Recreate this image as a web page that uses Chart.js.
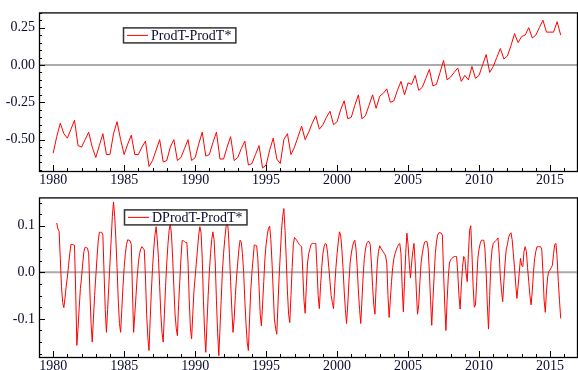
<!DOCTYPE html>
<html>
<head>
<meta charset="utf-8">
<script src="https://cdn.jsdelivr.net/npm/chart.js@4.4.0/dist/chart.umd.min.js"></script>
<style>
  html, body { margin: 0; padding: 0; background: #fff; }
  #wrap { position: relative; width: 578px; height: 370px; }
  canvas { position: absolute; left: 0; }
  #topChart { top: 0; }
  #botChart { top: 185px; }
</style>
</head>
<body>
<div id="wrap">
  <canvas id="topChart" width="578" height="185"></canvas>
  <canvas id="botChart" width="578" height="185"></canvas>
</div>
<script>
// ProdT-ProdT*, quarterly 1980Q1 .. 2015Q4
const prodStart = 1980;
const prod = [
  -0.59, -0.48, -0.39, -0.46,   // 1980
  -0.49, -0.43, -0.37, -0.54,   // 1981
  -0.55, -0.50, -0.45, -0.55,   // 1982
  -0.62, -0.54, -0.46, -0.60,   // 1983
  -0.60, -0.46, -0.38, -0.50,   // 1984
  -0.60, -0.53, -0.47, -0.60,   // 1985
  -0.60, -0.55, -0.51, -0.68,   // 1986
  -0.64, -0.57, -0.50, -0.65,   // 1987
  -0.64, -0.55, -0.50, -0.64,   // 1988
  -0.62, -0.56, -0.50, -0.64,   // 1989
  -0.62, -0.53, -0.45, -0.61,   // 1990
  -0.60, -0.52, -0.45, -0.63,   // 1991
  -0.63, -0.55, -0.48, -0.64,   // 1992
  -0.62, -0.56, -0.51, -0.67,   // 1993
  -0.66, -0.60, -0.54, -0.69,   // 1994
  -0.67, -0.57, -0.49, -0.63,   // 1995
  -0.66, -0.50, -0.46, -0.60,   // 1996
  -0.55, -0.48, -0.41, -0.50,   // 1997
  -0.45, -0.39, -0.34, -0.43,   // 1998
  -0.40, -0.35, -0.31, -0.40,   // 1999
  -0.38, -0.30, -0.24, -0.36,   // 2000
  -0.35, -0.27, -0.20, -0.36,   // 2001
  -0.34, -0.27, -0.20, -0.29,   // 2002
  -0.21, -0.19, -0.16, -0.25,   // 2003
  -0.24, -0.17, -0.11, -0.20,   // 2004
  -0.12, -0.13, -0.07, -0.17,   // 2005
  -0.15, -0.09, -0.03, -0.14,   // 2006
  -0.13, -0.05,  0.03, -0.10,   // 2007
  -0.08, -0.05, -0.02, -0.11,   // 2008
  -0.07, -0.10, -0.01, -0.09,   // 2009
  -0.07,  0.00,  0.07, -0.05,   // 2010
  -0.01,  0.05,  0.11,  0.04,   // 2011
   0.06,  0.13,  0.21,  0.15,   // 2012
   0.19,  0.20,  0.25,  0.18,   // 2013
   0.20,  0.25,  0.30,  0.22,   // 2014
   0.22,  0.22,  0.29,  0.20    // 2015
];

// DProdT-ProdT*, monthly 1980M4 .. 2015M10
const dprodStart = 1980.25;
const dprod = [
  0.106, 0.093, 0.088, 0.030, -0.030, -0.065, -0.076, -0.055, -0.030,                 // 1980 Apr-Dec
  -0.010, 0.015, 0.040, 0.060, 0.060, 0.059, 0.058, -0.040, -0.157, -0.120, -0.075, -0.035, // 1981
  -0.010, 0.020, 0.045, 0.054, 0.053, 0.052, 0.040, -0.040, -0.110, -0.150, -0.100, -0.050, // 1982
  -0.010, 0.030, 0.065, 0.086, 0.086, 0.086, 0.080, 0.000, -0.080, -0.129, -0.080, -0.030,  // 1983
  0.020, 0.070, 0.120, 0.151, 0.120, 0.070, 0.010, -0.060, -0.110, -0.129, -0.080, -0.030,  // 1984
  0.010, 0.040, 0.060, 0.070, 0.069, 0.068, 0.060, -0.040, -0.129, -0.090, -0.050, -0.010,  // 1985
  0.020, 0.040, 0.050, 0.055, 0.052, 0.048, -0.010, -0.090, -0.140, -0.168, -0.100, -0.040, // 1986
  0.010, 0.050, 0.080, 0.098, 0.070, 0.030, -0.030, -0.090, -0.130, -0.150, -0.090, -0.030, // 1987
  0.020, 0.060, 0.090, 0.105, 0.080, 0.030, -0.030, -0.090, -0.120, -0.136, -0.070, -0.020, // 1988
  0.030, 0.068, 0.068, 0.066, 0.064, 0.064, 0.020, -0.060, -0.120, -0.143, -0.090, -0.040,  // 1989
  -0.010, 0.020, 0.050, 0.080, 0.098, 0.085, 0.030, -0.060, -0.130, -0.172, -0.110, -0.050, // 1990
  0.000, 0.040, 0.070, 0.087, 0.070, 0.020, -0.060, -0.130, -0.179, -0.120, -0.060, 0.000,  // 1991
  0.040, 0.070, 0.095, 0.112, 0.090, 0.040, -0.020, -0.080, -0.129, -0.100, -0.050, -0.010, // 1992
  0.020, 0.050, 0.069, 0.065, 0.040, 0.000, -0.060, -0.110, -0.150, -0.168, -0.100, -0.040, // 1993
  0.000, 0.030, 0.059, 0.058, 0.057, 0.030, -0.030, -0.090, -0.115, -0.070, -0.020, 0.030,  // 1994
  0.060, 0.080, 0.095, 0.099, 0.070, 0.020, -0.040, -0.100, -0.120, -0.133, -0.070, -0.010, // 1995
  0.040, 0.090, 0.120, 0.137, 0.090, 0.030, -0.040, -0.090, -0.108, -0.050, 0.010, 0.060,   // 1996
  0.075, 0.072, 0.068, 0.064, 0.060, 0.057, 0.055, 0.000, -0.060, -0.088, -0.030, 0.020,    // 1997
  0.040, 0.050, 0.060, 0.062, 0.062, 0.062, 0.062, 0.010, -0.050, -0.078, -0.030, 0.010,    // 1998
  0.040, 0.055, 0.062, 0.060, 0.040, 0.010, -0.020, -0.050, -0.065, -0.078, -0.030, 0.010,  // 1999
  0.040, 0.065, 0.087, 0.080, 0.050, 0.010, -0.040, -0.080, -0.110, -0.070, -0.020, 0.020,  // 2000
  0.040, 0.055, 0.065, 0.069, 0.050, 0.010, -0.040, -0.080, -0.110, -0.060, -0.010, 0.030,  // 2001
  0.050, 0.062, 0.066, 0.066, 0.060, 0.020, -0.030, -0.070, -0.090, -0.030, 0.020, 0.045,   // 2002
  0.057, 0.052, 0.048, 0.044, 0.040, 0.035, 0.020, -0.050, -0.097, -0.060, -0.020, 0.010,   // 2003
  0.030, 0.040, 0.048, 0.055, 0.060, 0.062, 0.040, -0.030, -0.085, -0.020, 0.040, 0.084,    // 2004
  0.060, 0.020, -0.012, 0.020, 0.045, 0.062, 0.020, -0.040, -0.090, -0.070, -0.020, 0.020,  // 2005
  0.040, 0.055, 0.065, 0.066, 0.066, 0.050, 0.000, -0.060, -0.114, -0.060, -0.010, 0.040,   // 2006
  0.065, 0.080, 0.085, 0.085, 0.084, 0.080, 0.000, -0.070, -0.125, -0.060, -0.010, 0.020,   // 2007
  0.027, 0.030, 0.032, 0.034, 0.034, 0.034, 0.000, -0.050, -0.079, -0.030, 0.010, 0.034,    // 2008
  0.030, 0.000, -0.020, 0.040, 0.090, 0.100, 0.040, -0.030, -0.075, -0.070, -0.020, 0.030,  // 2009
  0.050, 0.062, 0.069, 0.069, 0.069, 0.050, 0.000, -0.070, -0.122, -0.050, 0.020, 0.050,    // 2010
  0.062, 0.065, 0.068, 0.070, 0.074, 0.040, -0.010, -0.040, -0.063, -0.020, 0.020, 0.050,   // 2011
  0.060, 0.075, 0.082, 0.085, 0.070, 0.040, 0.010, -0.025, -0.056, -0.030, 0.000, 0.030,    // 2012
  0.015, 0.012, 0.045, 0.055, 0.045, 0.010, -0.020, -0.050, -0.070, -0.040, 0.000, 0.030,   // 2013
  0.045, 0.055, 0.055, 0.055, 0.055, 0.050, 0.000, -0.060, -0.086, -0.040, -0.010, 0.002,   // 2014
  0.005, 0.010, 0.015, 0.040, 0.060, 0.062, 0.030, -0.020, -0.060, -0.099                   // 2015 Jan-Oct
];

const yearTicks = [1980, 1985, 1990, 1995, 2000, 2005, 2010, 2015];
const prodTicks = [-0.5, -0.25, 0, 0.25];
const dprodTicks = [-0.1, 0, 0.1];

const textColor = '#0a0a30';
const fontFamily = '"Liberation Serif", "DejaVu Serif", serif';

// frame, inner tick marks, zero line and boxed legend
const framePlugin = {
  id: 'frame',
  beforeDatasetsDraw(chart) {
    const { ctx, chartArea: a, scales } = chart;
    const y0 = scales.y.getPixelForValue(0);
    ctx.save();
    ctx.strokeStyle = '#ababab';
    ctx.lineWidth = 2;
    ctx.beginPath();
    ctx.moveTo(a.left, y0);
    ctx.lineTo(a.right, y0);
    ctx.stroke();
    ctx.restore();
  },
  afterDraw(chart, args, opts) {
    const { ctx, chartArea: a, scales } = chart;
    ctx.save();
    ctx.strokeStyle = '#000';
    ctx.lineWidth = 1;
    ctx.beginPath();
    // x ticks: every year, longer every 5
    for (let yr = 1979; yr <= 2016; yr++) {
      const x = Math.round(scales.x.getPixelForValue(yr)) + 0.5;
      const len = yr % 5 === 0 ? 6 : 3;
      ctx.moveTo(x, a.bottom);
      ctx.lineTo(x, a.bottom - len);
    }
    // y ticks
    const n0 = Math.ceil(scales.y.min / opts.minorStep - 1e-6);
    const n1 = Math.floor(scales.y.max / opts.minorStep + 1e-6);
    for (let k = n0; k <= n1; k++) {
      const v = k * opts.minorStep;
      const y = Math.round(scales.y.getPixelForValue(v)) + 0.5;
      const major = Math.abs(v / opts.majorStep - Math.round(v / opts.majorStep)) < 1e-6;
      ctx.moveTo(a.left, y);
      ctx.lineTo(a.left + (major ? 6 : 3), y);
    }
    ctx.stroke();
    ctx.lineWidth = 1.3;
    ctx.strokeRect(a.left + 0.5, a.top + 0.5, a.right - a.left, a.bottom - a.top);

    // legend box
    const label = chart.data.datasets[0].label;
    ctx.font = '14px ' + fontFamily;
    const tw = ctx.measureText(label).width;
    const bx = a.left + opts.legendX, by = a.top + opts.legendY;
    const bw = tw + 32, bh = 15;
    ctx.fillStyle = '#fff';
    ctx.fillRect(bx, by, bw, bh);
    ctx.strokeStyle = '#333';
    ctx.lineWidth = 1.5;
    ctx.strokeRect(bx + 0.5, by + 0.5, bw, bh);
    ctx.strokeStyle = '#ff0000';
    ctx.lineWidth = 1;
    ctx.beginPath();
    ctx.moveTo(bx + 4, by + 8);
    ctx.lineTo(bx + 25, by + 8);
    ctx.stroke();
    ctx.fillStyle = textColor;
    ctx.textBaseline = 'middle';
    ctx.fillText(label, bx + 28, by + 8.5);
    ctx.restore();
  }
};

function makeChart(id, label, start, step, values, yMin, yMax, yTicks, decimals, minorStep, majorStep, legendX, legendY, xHeight) {
  const pts = values.map((v, i) => ({ x: start + i * step, y: v }));
  return new Chart(document.getElementById(id), {
    type: 'line',
    data: {
      datasets: [{
        label: label,
        data: pts,
        borderColor: '#ff0000',
        borderWidth: 1,
        pointRadius: 0,
        tension: 0,
        fill: false
      }]
    },
    options: {
      responsive: false,
      animation: false,
      events: [],
      layout: { padding: { top: 10, right: 1, left: 0, bottom: 0 } },
      plugins: {
        legend: { display: false },
        tooltip: { enabled: false },
        frame: { minorStep: minorStep, majorStep: majorStep, legendX: legendX, legendY: legendY }
      },
      scales: {
        x: {
          type: 'linear',
          min: 1979.0,
          max: 2016.9,
          grid: { display: false, drawTicks: false },
          border: { display: false },
          afterBuildTicks: s => { s.ticks = yearTicks.map(v => ({ value: v })); },
          afterFit: s => { s.height = xHeight; },
          ticks: {
            padding: 1,
            maxRotation: 0,
            autoSkip: false,
            color: textColor,
            font: { family: fontFamily, size: 14 },
            callback: v => String(v)
          }
        },
        y: {
          min: yMin,
          max: yMax,
          grid: { display: false, drawTicks: false },
          border: { display: false },
          afterBuildTicks: s => { s.ticks = yTicks.map(v => ({ value: v })); },
          afterFit: s => { s.width = 39; },
          ticks: {
            padding: 4,
            color: textColor,
            font: { family: fontFamily, size: 14 },
            callback: v => Number(v).toFixed(decimals)
          }
        }
      }
    },
    plugins: [framePlugin]
  });
}

makeChart('topChart', 'ProdT-ProdT*', prodStart, 0.25, prod,
  -0.71, 0.352, prodTicks, 2, 0.05, 0.25, 84, 15, 14);
makeChart('botChart', 'DProdT-ProdT*', dprodStart, 1 / 12, dprod,
  -0.182, 0.161, dprodTicks, 1, 0.025, 0.1, 85, 12, 13);
</script>
</body>
</html>
